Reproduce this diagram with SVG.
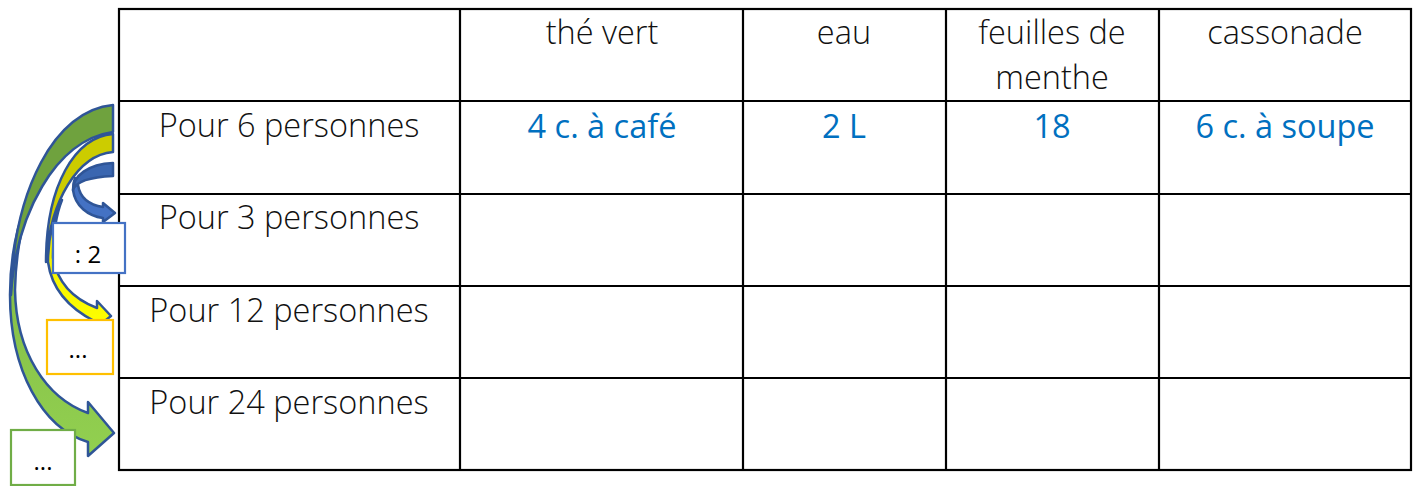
<svg xmlns="http://www.w3.org/2000/svg" width="1418" height="486" viewBox="0 0 1418 486">
<defs>
<style>
.grid{stroke:#000;stroke-width:2.2;fill:none}
.t{font-family:"Open Sans","Liberation Sans",sans-serif;font-weight:300;font-size:32.5px;fill:#111;text-anchor:middle}
.b{font-family:"Open Sans","Liberation Sans",sans-serif;font-weight:400;font-size:32.5px;fill:#0070C0;text-anchor:middle}
.bx{font-family:"Open Sans","Liberation Sans",sans-serif;font-size:24px;fill:#000;text-anchor:middle}
.ol{stroke:#2F5597;stroke-width:2.5;stroke-linejoin:round}
</style>
<linearGradient id="gFront" x1="0" y1="0" x2="0" y2="1"><stop offset="0" stop-color="#7CB342"/><stop offset="1" stop-color="#92D050"/></linearGradient>
<linearGradient id="yFront" x1="0" y1="0" x2="0" y2="1"><stop offset="0" stop-color="#E6E600"/><stop offset="1" stop-color="#FFFF00"/></linearGradient>
</defs>
<rect width="1418" height="486" fill="#fff"/>
<g id="table">
<rect class="grid" x="119" y="9" width="1292" height="461"/>
<line class="grid" x1="119" y1="101" x2="1411" y2="101"/>
<line class="grid" x1="119" y1="194" x2="1411" y2="194"/>
<line class="grid" x1="119" y1="286" x2="1411" y2="286"/>
<line class="grid" x1="119" y1="378" x2="1411" y2="378"/>
<line class="grid" x1="460" y1="9" x2="460" y2="470"/>
<line class="grid" x1="743" y1="9" x2="743" y2="470"/>
<line class="grid" x1="946" y1="9" x2="946" y2="470"/>
<line class="grid" x1="1159" y1="9" x2="1159" y2="470"/>
</g>
<g id="headers">
<text class="t" x="602" y="44">thé vert</text>
<text class="t" x="844" y="44">eau</text>
<text class="t" x="1052" y="44">feuilles de</text>
<text class="t" x="1052" y="89">menthe</text>
<text class="t" x="1285" y="44">cassonade</text>
</g>
<g id="rows">
<text class="t" x="289" y="137">Pour 6 personnes</text>
<text class="t" x="289" y="229">Pour 3 personnes</text>
<text class="t" x="289" y="322">Pour 12 personnes</text>
<text class="t" x="289" y="414">Pour 24 personnes</text>
</g>
<g id="values">
<text class="b" x="602" y="138">4 c. à café</text>
<text class="b" x="844" y="138">2 L</text>
<text class="b" x="1052" y="138">18</text>
<text class="b" x="1285" y="138">6 c. à soupe</text>
</g>
<g id="connectors">
<g id="arrow-green">
<path class="ol" fill="url(#gFront)" d="M50,160 C28,195 16,240 15,290 C16,352 46,398 88,413 L88,402 L114,433 L88,456 L88,442 C42,428 10,370 10,295 C10,240 25,195 50,160 Z"/>
<path class="ol" fill="#6FA23E" d="M113,105 C55,110 13,190 11,295 C16,215 55,140 113,132 Z"/>
</g>
<g id="arrow-yellow">
<path class="ol" fill="url(#yFront)" d="M62,200 C52,220 48,240 48,262 C52,292 72,310 96,322 L96,328 L111,316 L97,301 L97,308 C76,300 58,285 53,258 C53,235 56,215 62,200 Z"/>
<path class="ol" fill="#CCCC00" d="M113,134 C75,137 46,185 46,262 C50,200 78,155 113,152 Z"/>
</g>
<g id="arrow-blue">
<path class="ol" fill="#4472C4" d="M75,178 C73,183 73,186 73,190 C75,206 88,216 103,218 L103,222 L115,213 L103,203 L103,207 C90,205 80,198 78,185 Z"/>
<path class="ol" fill="#3A66B0" d="M113,163 C88,164 73,176 73,190 C76,181 92,177 113,176 Z"/>
</g>
</g>
<g id="box-div2">
<rect x="53" y="223" width="72" height="50" fill="#fff" stroke="#4472C4" stroke-width="2.2"/>
<text class="bx" x="88" y="263">: 2</text>
</g>
<g id="box-yellow">
<rect x="47" y="320" width="66" height="54" fill="#fff" stroke="#FFC000" stroke-width="2.2"/>
<text class="bx" x="78" y="358">...</text>
</g>
<g id="box-green">
<rect x="11" y="430" width="64" height="55" fill="#fff" stroke="#70AD47" stroke-width="2.2"/>
<text class="bx" x="43" y="470">...</text>
</g>
</svg>
